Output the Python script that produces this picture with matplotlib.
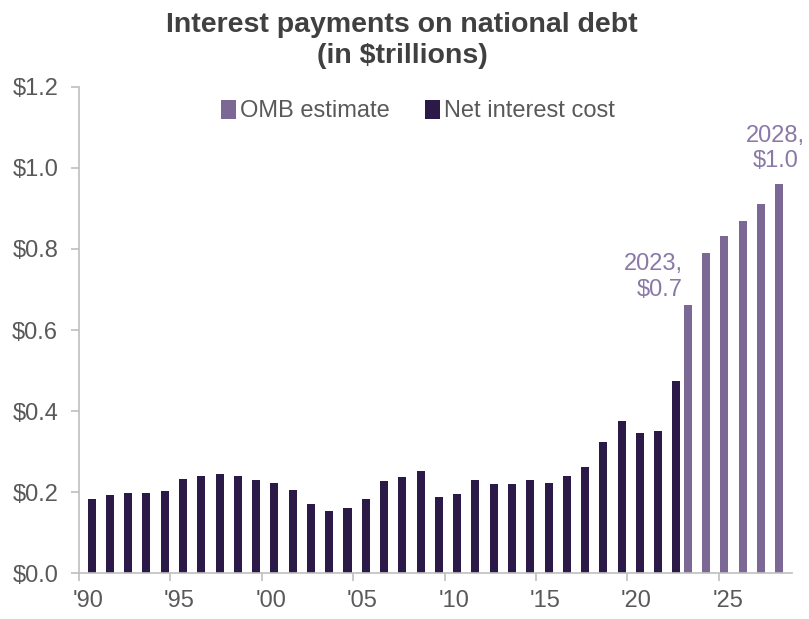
import matplotlib
matplotlib.use('Agg')
import matplotlib.pyplot as plt
from matplotlib.ticker import FixedLocator, FuncFormatter

# net interest cost, $ trillions, fiscal years 1990-2022
actual_years = list(range(1990, 2023))
actual_cost = [0.184, 0.194, 0.199, 0.199, 0.203, 0.232, 0.241, 0.244, 0.241, 0.230,
               0.223, 0.206, 0.171, 0.153, 0.160, 0.184, 0.227, 0.237, 0.253, 0.187,
               0.196, 0.230, 0.220, 0.221, 0.229, 0.223, 0.240, 0.263, 0.325, 0.375,
               0.345, 0.352, 0.475]

# OMB estimates 2023-2028
omb_years = list(range(2023, 2029))
omb_cost = [0.663, 0.789, 0.833, 0.868, 0.912, 0.961]

tick_years = [1990, 1995, 2000, 2005, 2010, 2015, 2020, 2025]
tick_labels = ["'90", "'95", "'00", "'05", "'10", "'15", "'20", "'25"]

dark = '#2b1a47'
light = '#7c6894'
grey = '#595959'

plt.rcParams['font.family'] = ['Liberation Sans', 'DejaVu Sans']

fig = plt.figure(figsize=(8.09, 6.19), dpi=100)
ax = fig.add_axes([0.0977, 0.0738, 0.881, 0.786])

w = 0.44
off = 0.19
ax.bar([y - off for y in omb_years], omb_cost, width=w, color=light, label='OMB estimate')
ax.bar([y + off for y in actual_years], actual_cost, width=w, color=dark, label='Net interest cost')

ax.set_xlim(1989.5, 2028.5)
ax.set_ylim(0, 1.2)
ax.set_yticks([0, 0.2, 0.4, 0.6, 0.8, 1.0, 1.2])
ax.yaxis.set_major_formatter(FuncFormatter(lambda v, p: '$%.1f' % v))

# labels under the categories, tick marks on the category boundaries
ax.set_xticks(tick_years)
ax.set_xticklabels(tick_labels)
ax.xaxis.set_minor_locator(FixedLocator([y - 0.5 for y in tick_years]))
ax.tick_params(axis='x', which='major', length=0, pad=12, labelsize=17, labelcolor=grey)
ax.tick_params(axis='x', which='minor', length=6, color='#bfbfbf', width=1.2)
ax.tick_params(axis='y', length=6, color='#bfbfbf', width=1.2, labelsize=17, labelcolor=grey, pad=9)

for s in ['top', 'right']:
    ax.spines[s].set_visible(False)
for s in ['left', 'bottom']:
    ax.spines[s].set_color('#bfbfbf')
    ax.spines[s].set_linewidth(1.2)

leg = ax.legend(loc='center', bbox_to_anchor=(0.475, 0.95), ncol=2, frameon=False,
                fontsize=17, handlelength=0.65, handleheight=0.85, handletextpad=0.15,
                columnspacing=1.5, borderaxespad=0)
for t in leg.get_texts():
    t.set_color(grey)

# callouts for the first and last estimate
ann = '#8a79a6'
ax.text(2022.54, 0.672, '2023,\n$0.7', ha='right', va='bottom',
        fontsize=17, color=ann, linespacing=1.2, multialignment='right')
ax.text(2027.63, 0.99, '2028,\n$1.0', ha='center', va='bottom',
        fontsize=17, color=ann, linespacing=1.2, multialignment='center')

fig.text(0.497, 0.98, 'Interest payments on national debt\n(in $trillions)', ha='center', va='top',
         fontsize=20.5, fontweight='bold', color='#404040', linespacing=1.25)

plt.savefig('out.png', dpi=100)
